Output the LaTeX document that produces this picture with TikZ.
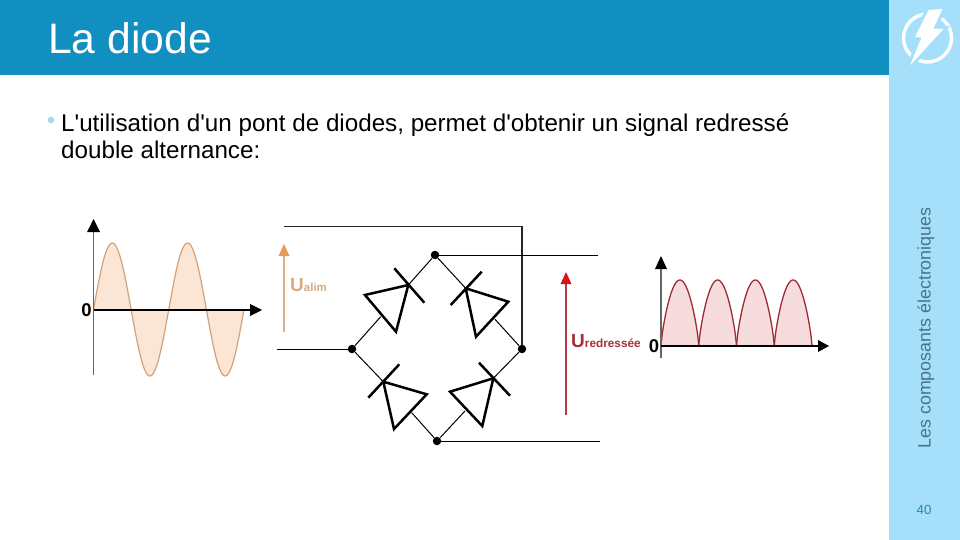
\documentclass[tikz,border=0pt]{standalone}
\usepackage{fontspec}
\setmainfont{Liberation Sans}
\newfontfamily\plainfont{Liberation Sans}
\usetikzlibrary{arrows.meta}
\definecolor{hdr}{HTML}{118FC0}
\definecolor{side}{HTML}{A5DFF9}
\definecolor{sidet}{HTML}{47738E}
\definecolor{pagec}{HTML}{2A85B8}
\definecolor{bul}{HTML}{A5D8F0}
\definecolor{orangeA}{HTML}{EA9A55}
\definecolor{orangeS}{HTML}{DDB08C}
\definecolor{orangeL}{HTML}{D8AC80}
\definecolor{orangeF}{HTML}{FBE5D4}
\definecolor{orangeC}{HTML}{D4A178}
\definecolor{redA}{HTML}{D8141C}
\definecolor{redS}{HTML}{B43C46}
\definecolor{redL}{HTML}{A83038}
\definecolor{redF}{HTML}{F6DCDC}
\definecolor{redC}{HTML}{9C2C34}
\tikzset{
  wirethin/.style={draw=black,line width=1pt},
  wirethick/.style={draw=black!85,line width=1.4pt},
  junction/.style={circle,fill=black,inner sep=0pt,minimum size=8.5pt},
  axisv/.style={draw=black!60,line width=1.1pt},
  axish/.style={draw=black,line width=1.6pt},
  tip/.style={fill=black},
  diodeb/.style={draw=black,line width=2.5pt,line join=miter},
  lab/.style={inner sep=0pt,font=\bfseries},
}
\begin{document}
\begin{tikzpicture}[x=1pt,y=-1pt]
\useasboundingbox (0,0) rectangle (960,540);
\fill[white] (0,0) rectangle (960,540);
\fill[side] (889,0) rectangle (960,540);
\fill[hdr] (0,0) rectangle (889,75);
\node[anchor=west,inner sep=0pt,text=white,font=\fontsize{42.67}{46}\selectfont] (title) at (48,38) {La diode};
\node[inner sep=0pt,text=bul,font=\fontsize{24}{26}\selectfont] (bullet) at (51,122.5) {•};
\node[anchor=north west,inner sep=0pt,align=left,text=black,font=\plainfont\fontsize{24.2}{27}\selectfont] (body) at (61,113) {L'utilisation d'un pont de diodes, permet d'obtenir un signal redressé\\double alternance:};
\node[rotate=90,inner sep=0pt,text=sidet,font=\fontsize{17.85}{20}\selectfont] (sidelabel) at (926,328) {Les composants électroniques};
\node[inner sep=0pt,text=pagec,font=\fontsize{13.3}{15}\selectfont] (page) at (924,510) {40};
% icon
\draw[white,line width=3.4pt] (927.5,38) circle (24);
\path[draw=side,line width=6pt,line join=miter]
  (928.5,10)--(942.5,9)--(933.5,28.5)--(943.5,29)--(910,65.5)--(921.5,37.5)--(915,37)--cycle;
\fill[white] (928.5,10)--(942.5,9)--(933.5,28.5)--(943.5,29)--(910,65.5)--(921.5,37.5)--(915,37)--cycle;
% left sine
\fill[orangeF] plot[domain=93.5:244,samples=121,smooth] (\x,{309.5-66.5*sin((\x-93.5)/75.25*360)}) -- cycle;
\draw[orangeC,line width=1.2pt] plot[domain=93.5:244,samples=121,smooth] (\x,{309.5-66.5*sin((\x-93.5)/75.25*360)});
\coordinate (ya) at (93.5,375);\coordinate (yb) at (93.5,232);
\coordinate (xa) at (93.5,310);\coordinate (xb) at (250,310);
\draw[axisv] (ya)--(yb);
\fill[tip] (93.5,219)--(100,232)--(87,232)--cycle;
\draw[axish] (xa)--(xb);
\fill[tip] (262,310)--(250,304)--(250,316)--cycle;
\node[lab,font=\bfseries\fontsize{18.5}{20}\selectfont] (zeroA) at (86.5,310.5) {0};
% ualim
\coordinate (ua) at (284,332);\coordinate (ub) at (284,254);
\draw[draw=orangeS,line width=1.4pt] (ua)--(ub);
\fill[orangeA] (284,244)--(289.5,256)--(278.5,256)--cycle;
\node[lab,anchor=base west,text=orangeL] (ualim) at (290,291) {\fontsize{19}{20}\selectfont U\fontsize{11.5}{12}\selectfont alim};
% bridge junctions
\node[junction] (T) at (435,255) {};
\node[junction] (R) at (522,349) {};
\node[junction] (L) at (352,349) {};
\node[junction] (B) at (437,441) {};
% free wire ends
\coordinate (w1) at (284,226.7);\coordinate (w2) at (522,226.7);
\coordinate (w3) at (277,349);
\coordinate (w4) at (598,255);\coordinate (w5) at (600,441);
\draw[wirethick,line join=miter] (w1)--(w2)--(R);
\draw[wirethin] (w3)--(L);
\draw[wirethin] (T)--(w4);
\draw[wirethin] (B)--(w5);
% diode TL
\coordinate (a1) at (408.3,285);\coordinate (a2) at (380.7,316.7);
\draw[wirethin] (T)--(a1);\draw[wirethin] (L)--(a2);
\draw[diodeb] (365,295)--(408.3,285)--(396,331.7)--cycle;
\draw[diodeb] (394.3,268.3)--(424.3,302.7);
% diode TR
\coordinate (b1) at (465.7,288.3);\coordinate (b2) at (495,319.3);
\draw[wirethin] (T)--(b1);\draw[wirethin] (R)--(b2);
\draw[diodeb] (508.3,301.7)--(465.7,288.3)--(476,336.7)--cycle;
\draw[diodeb] (481.7,271.7)--(450.7,305);
% diode BL
\coordinate (c1) at (383.3,381.7);\coordinate (c2) at (411.7,412.7);
\draw[wirethin] (L)--(c1);\draw[wirethin] (B)--(c2);
\draw[diodeb] (426.7,394.3)--(383.3,381.7)--(394,429)--cycle;
\draw[diodeb] (399.3,364.3)--(368.3,397.7);
% diode BR
\coordinate (d1) at (493.3,378.3);\coordinate (d2) at (465,411);
\draw[wirethin] (R)--(d1);\draw[wirethin] (B)--(d2);
\draw[diodeb] (450,391.7)--(493.3,378.3)--(482.3,426)--cycle;
\draw[diodeb] (479,362.7)--(510,395.7);
% uredressee
\coordinate (va) at (566,415);\coordinate (vb) at (566,282);
\draw[draw=redS,line width=1.4pt] (va)--(vb);
\fill[redA] (566,272)--(571.5,284)--(560.5,284)--cycle;
\node[lab,anchor=base west,text=redL] (ured) at (571,347.5) {\fontsize{19}{20}\selectfont U\fontsize{11.8}{12}\selectfont redressée};
\node[lab,font=\bfseries\fontsize{18.5}{20}\selectfont] (zeroB) at (654,346) {0};
% right arches
\foreach \s in {661,698.75,736.5,774.25}{
  \fill[redF] (\s,346) -- plot[domain=0.02:37.73,samples=41] ({\s+\x},{346-66*pow(sin(\x/37.75*180),0.75)}) -- ({\s+37.75},346) -- cycle;
  \draw[redC,line width=1.3pt] (\s,346) -- plot[domain=0.02:37.73,samples=41] ({\s+\x},{346-66*pow(sin(\x/37.75*180),0.75)}) -- ({\s+37.75},346);
}
\coordinate (yc) at (661,358);\coordinate (yd) at (661,269);
\coordinate (xc) at (661,346);\coordinate (xd) at (818,346);
\draw[axisv] (yc)--(yd);
\fill[tip] (661,256)--(667,269)--(655,269)--cycle;
\draw[axish] (xc)--(xd);
\fill[tip] (829,346)--(818,340)--(818,352)--cycle;
\end{tikzpicture}
\end{document}
